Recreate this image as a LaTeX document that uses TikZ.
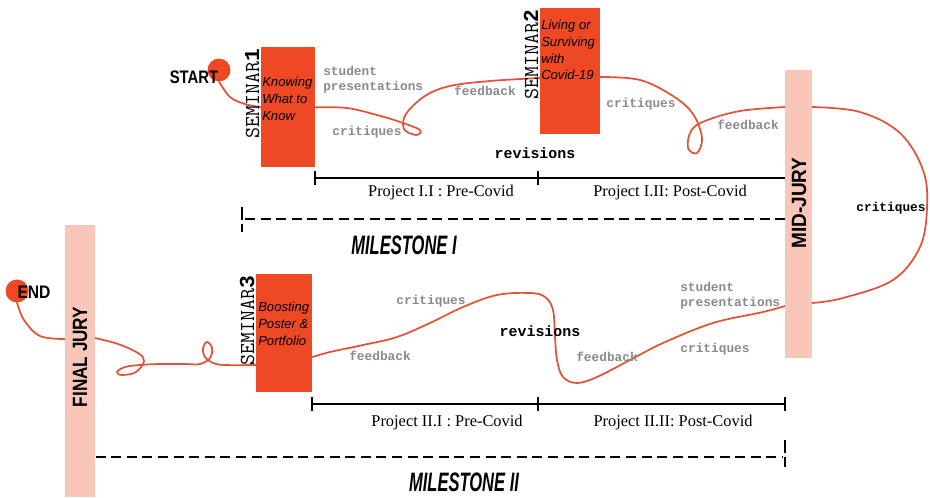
\documentclass[tikz,border=0pt]{standalone}
\usepackage{fontspec}
\setmainfont{Liberation Serif}
\newfontfamily\labelfont{Liberation Mono}
\newfontfamily\sansf{Liberation Sans}
\definecolor{seminar}{HTML}{EF4824}
\definecolor{jury}{HTML}{F9C6BA}
\definecolor{pathc}{HTML}{E0533A}
\definecolor{notec}{HTML}{8A8A8A}
\tikzset{
  seminarbox/.style={fill=seminar, draw=none, inner sep=0pt, anchor=north west},
  jurybar/.style={fill=jury, draw=none, inner sep=0pt, anchor=north west},
  dot/.style={circle, fill=seminar, draw=none, minimum size=17pt, inner sep=0pt},
  loopline/.style={draw=pathc, line width=1.3pt, line cap=round},
  note/.style={font=\labelfont\bfseries\fontsize{9.6}{11.5}\selectfont, text=notec, inner sep=0pt, align=left},
  keynote/.style={note, text=black},
  bignote/.style={keynote, font=\labelfont\bfseries\fontsize{11.2}{13}\selectfont},
  semlabel/.style={rotate=90, anchor=south east, inner sep=1pt, font=\ttfamily\fontsize{16}{16}\selectfont},
  boxtext/.style={anchor=north west, inner sep=0pt, align=left, font=\sansf\itshape\fontsize{9.8}{12.5}\selectfont},
  project/.style={inner sep=0pt, font=\fontsize{12.3}{14}\selectfont},
  milestone/.style={inner sep=0pt, font=\sansf\bfseries\itshape\fontsize{20}{20}\selectfont},
  endlabel/.style={inner sep=0pt, font=\sansf\bfseries\fontsize{13.6}{14}\selectfont},
  jurylabel/.style={rotate=90, inner sep=0pt, font=\sansf\bfseries\fontsize{15.5}{16}\selectfont},
  tline/.style={draw=black, line width=0.9pt},
  dline/.style={draw=black, line width=2.2pt, dash pattern=on 7.5pt off 4.2pt},
}
\begin{document}
\begin{tikzpicture}[x=0.75pt, y=-0.75pt]
\useasboundingbox (0,0) rectangle (930,497);

% named places
\node[dot] (start) at (219,70) {};
\node[dot] (end) at (17,291) {};
\node[seminarbox, minimum width=40.5pt, minimum height=90pt] (s1) at (261,47) {};
\node[seminarbox, minimum width=45pt, minimum height=94.5pt] (s2) at (540,8) {};
\node[seminarbox, minimum width=42pt, minimum height=88.5pt] (s3) at (256,274) {};

% the path (under the boxes and bars)
\draw[loopline] plot[smooth, tension=0.6] coordinates {(start.south) (230,97) (245,104) (s1.west)};
\draw[loopline] plot[smooth, tension=0.6] coordinates {(s1.east) (347,108) (377,115) (400,122) (420,130) (416,135) (404,129) (406,114) (425,96) (450,86) (490,81) (s2.west |- 0,78)};
\draw[loopline] plot[smooth, tension=0.6] coordinates {(s2.east |- 0,77) (640,80) (673,96) (693,114) (702,138) (697,153) (688,148) (691,131) (705,121) (740,111) (785,107)};
\draw[loopline] plot[smooth, tension=0.6] coordinates {(812,107) (860,112) (900,133) (923,170) (927,207) (920,247) (893,280) (843,298) (812,303)};
\draw[loopline] plot[smooth, tension=0.6] coordinates {(785,306) (763,312) (713,323) (663,343) (630,360) (597,377) (577,383) (563,377) (557,360) (555,337) (553,310) (545,297) (530,293) (497,295) (463,307) (430,323) (397,337) (363,345) (330,352) (s3.east |- 0,357)};
\draw[loopline] plot[smooth, tension=0.6] coordinates {(s3.west |- 0,365) (225,365) (213,363) (205,357) (203,348) (207,342) (212,348) (210,358) (200,364) (185,364) (160,364) (140,365) (125,367) (117,372) (122,375) (136,372) (144,361) (138,353) (118,344) (95,338)};
\draw[loopline] plot[smooth, tension=0.6] coordinates {(65,339) (40,336) (24,320) (end.south)};

% boxes and bars on top
\node[seminarbox, minimum width=40.5pt, minimum height=90pt] at (261,47) {};
\node[seminarbox, minimum width=45pt, minimum height=94.5pt] at (540,8) {};
\node[seminarbox, minimum width=42pt, minimum height=88.5pt] at (256,274) {};
\node[jurybar, minimum width=20.25pt, minimum height=216pt] (mj) at (785,70) {};
\node[jurybar, minimum width=22.5pt, minimum height=204pt] (fj) at (65,225) {};
\node[dot] at (219,70) {};
\node[dot] at (17,291) {};

% box texts
\node[boxtext] (s1t) at (262,77) {Knowing\\What to\\Know};
\node[boxtext] (s2t) at (541,20) {Living or\\Surviving\\with\\Covid-19};
\node[boxtext] (s3t) at (258,302) {Boosting\\Poster \&\\Portfolio};
\node[semlabel] (s1l) at (s1.north west) {SEMINAR{\labelfont\bfseries 1}};
\node[semlabel] (s2l) at (s2.north west) {SEMINAR{\labelfont\bfseries 2}};
\node[semlabel] (s3l) at (s3.north west) {SEMINAR{\labelfont\bfseries 3}};

% start / end
\node[endlabel] (startl) at (194,77) {\scalebox{0.82}[1]{START}};
\node[endlabel] (endl) at (34,292) {\scalebox{0.86}[1]{END}};

% juries
\node[jurylabel] (mjl) at (799,203) {\scalebox{0.92}[1]{MID-JURY}};
\node[jurylabel] (fjl) at (80,357) {\scalebox{0.83}[1]{FINAL JURY}};

% notes upper
\node[note, anchor=west] (n1) at (323,80) {student\\presentations};
\node[note] (n2) at (367,132) {critiques};
\node[note] (n3) at (485,91) {feedback};
\node[note] (n4) at (641,104) {critiques};
\node[note] (n5) at (748,125) {feedback};
\node[bignote] (n6) at (535,153) {revisions};
\node[keynote] (n7) at (891,208) {critiques};
% notes lower
\node[note, anchor=west] (n8) at (680,296) {student\\presentations};
\node[note] (n9) at (715,349) {critiques};
\node[note] (n10) at (607,357) {feedback};
\node[bignote] (n11) at (540,331) {revisions};
\node[note] (n12) at (431,301) {critiques};
\node[note] (n13) at (380,356) {feedback};

% timelines
\coordinate (t1a) at (315,178);
\coordinate (t1b) at (538,178);
\draw[tline] (t1a) -- (mj.west |- t1a);
\draw[tline] ([yshift=-5pt]t1a) -- ([yshift=5pt]t1a);
\draw[tline] ([yshift=-5pt]t1b) -- ([yshift=5pt]t1b);
\coordinate (t2a) at (312,404);
\coordinate (t2b) at (538,404);
\coordinate (t2c) at (785,404);
\draw[tline] (t2a) -- (t2c);
\draw[tline] ([yshift=-5pt]t2a) -- ([yshift=5pt]t2a);
\draw[tline] ([yshift=-5pt]t2b) -- ([yshift=5pt]t2b);
\draw[tline] ([yshift=-5pt]t2c) -- ([yshift=5pt]t2c);
\node[project] (p1) at (441,193) {Project I.I : Pre-Covid};
\node[project] (p2) at (670,193) {Project I.II: Post-Covid};
\node[project] (p3) at (447,423) {Project II.I : Pre-Covid};
\node[project] (p4) at (673,423) {Project II.II: Post-Covid};

% milestones
\coordinate (m1a) at (245,219);
\draw[dline] (m1a) -- (mj.west |- m1a);
\draw[dline, dash pattern=on 10pt off 3pt] (242,207) -- (242,232);
\coordinate (m2b) at (783,457);
\draw[dline] (fj.east |- m2b) -- (m2b);
\draw[dline, dash pattern=on 10pt off 3pt] (785,440) -- (785,467);
\node[milestone] (ml1) at (404,245) {\scalebox{0.62}[1]{MILESTONE I}};
\node[milestone] (ml2) at (464,482) {\scalebox{0.62}[1]{MILESTONE II}};
\end{tikzpicture}
\end{document}
